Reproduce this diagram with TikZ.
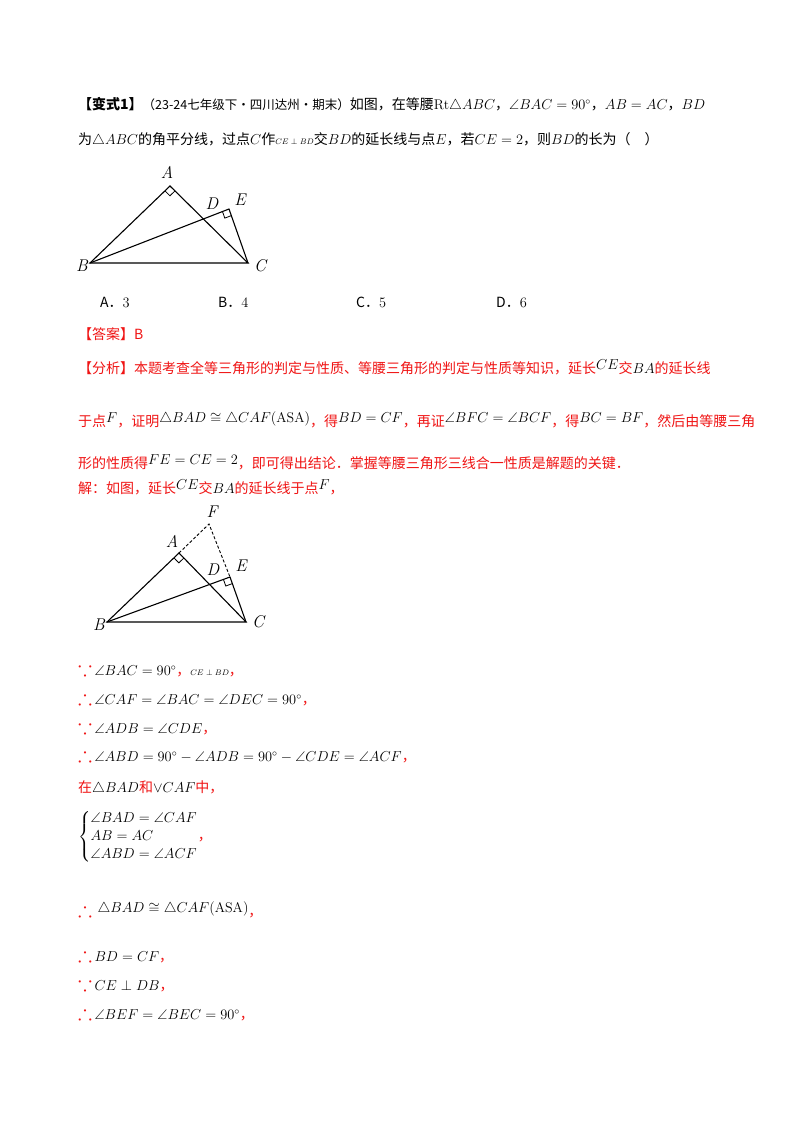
\documentclass[tikz,border=0pt]{standalone}
\usepackage{amsmath,amssymb,graphicx}
\usepackage{fontspec}
\newfontfamily\cjk{Noto Sans CJK SC}
\usetikzlibrary{calc}
\definecolor{rd}{RGB}{240,20,20}
\newcommand{\rz}[1]{{\color{rd}#1}}
\newcommand{\up}[1]{\textcolor{black}{\raisebox{4pt}{$#1$}}}
\newcommand{\bc}{\textcolor{rd}{\scalebox{1.5}{$\because$}}\,}
\newcommand{\tf}{\textcolor{rd}{\scalebox{1.5}{$\therefore$}}\,}
\begin{document}
\begin{tikzpicture}[x=1pt,y=-1pt,
  tx/.style={anchor=west,inner sep=0pt,font=\cjk\fontsize{14}{17}\selectfont},
  lb/.style={inner sep=0pt,font=\fontsize{17}{20}\selectfont\itshape},
  ln/.style={line width=1.1pt}]
\useasboundingbox (0,0) rectangle (800,1132);
\fill[white] (0,0) rectangle (800,1132);
% text
\node[tx] (t1) at (78,105) {\textbf{【变式1】}{\fontsize{12.5}{14}\selectfont（23-24七年级下·四川达州·期末）}如图，在等腰$\mathrm{Rt}\triangle ABC$，$\angle BAC=90^\circ$，$AB=AC$，$BD$};
\node[tx] (t2) at (78,140) {为$\triangle ABC$的角平分线，过点$C$作{\footnotesize$CE\perp BD$}交$BD$的延长线与点$E$，若$CE=2$，则$BD$的长为（\quad）};
\node[tx] (oa) at (100,302) {A．$3$};
\node[tx] (ob) at (218,302) {B．$4$};
\node[tx] (oc) at (356,302) {C．$5$};
\node[tx] (od) at (496,302) {D．$6$};
\node[tx,text=rd] (ans) at (78,334) {【答案】B};
\node[tx,text=rd] (a1) at (78,367) {【分析】本题考查全等三角形的判定与性质、等腰三角形的判定与性质等知识，延长\up{CE}交\textcolor{black}{$BA$}的延长线};
\node[tx,text=rd] (a2) at (78,420) {于点\up{F}，证明\up{\triangle BAD\cong\triangle CAF(\mathrm{ASA})}，得\up{BD=CF}，再证\up{\angle BFC=\angle BCF}，得\up{BC=BF}，然后由等腰三角};
\node[tx,text=rd] (a3) at (78,462) {形的性质得\up{FE=CE=2}，即可得出结论．掌握等腰三角形三线合一性质是解题的关键．};
\node[tx,text=rd] (a4) at (78,487) {解：如图，延长\up{CE}交\textcolor{black}{$BA$}的延长线于点\up{F}，};
\node[tx] (s1) at (78,669) {\bc $\angle BAC=90^\circ$\rz{，}{\footnotesize $CE\perp BD$}\rz{，}};
\node[tx] (s2) at (78,698) {\tf $\angle CAF=\angle BAC=\angle DEC=90^\circ$\rz{，}};
\node[tx] (s3) at (78,727) {\bc $\angle ADB=\angle CDE$\rz{，}};
\node[tx] (s4) at (78,755) {\tf $\angle ABD=90^\circ-\angle ADB=90^\circ-\angle CDE=\angle ACF$\rz{，}};
\node[tx] (s5) at (78,788) {\rz{在}$\triangle BAD$\rz{和}$\vee CAF$\rz{中，}};
\node[tx] (s6) at (78,837) {$\left\{\begin{aligned}&\angle BAD=\angle CAF\\[-2pt]&AB=AC\\[-2pt]&\angle ABD=\angle ACF\end{aligned}\right.$\rz{，}};
\node[tx] (s7) at (78,910) {\tf\ \up{\triangle BAD\cong\triangle CAF(\mathrm{ASA})}\rz{，}};
\node[tx] (s8) at (78,955) {\tf $BD=CF$\rz{，}};
\node[tx] (s9) at (78,984) {\bc $CE\perp DB$\rz{，}};
\node[tx] (s10) at (78,1013) {\tf $\angle BEF=\angle BEC=90^\circ$\rz{，}};
% figure 1
\coordinate (A) at (170,186); \coordinate (B) at (90,263); \coordinate (C) at (248,263);
\coordinate (E) at (229,209); \coordinate (D) at (211,214);
\draw[ln] (A)--(B)--(C)--cycle; \draw[ln] (B)--(E)--(C);
\draw[line width=0.8pt] ($(A)!7pt!(B)$) -- ($(A)!7pt!(B)+(A)!7pt!(C)-(A)$) -- ($(A)!7pt!(C)$);
\draw[line width=0.8pt] ($(E)!7pt!(B)$) -- ($(E)!7pt!(B)+(E)!7pt!(C)-(E)$) -- ($(E)!7pt!(C)$);
\node[lb] (lA) at (167,172) {A}; \node[lb] (lD) at (212,204) {D}; \node[lb] (lE) at (240,200) {E};
\node[lb] (lB) at (82,266) {B}; \node[lb] (lC) at (260,266) {C};
% figure 2
\coordinate (A2) at (179,553); \coordinate (B2) at (107,622); \coordinate (C2) at (246,622);
\coordinate (E2) at (230,577); \coordinate (D2) at (214,582); \coordinate (F2) at (209,524);
\draw[ln] (A2)--(B2)--(C2)--cycle; \draw[ln] (B2)--(E2)--(C2);
\draw[densely dashed,line width=0.9pt] (A2)--(F2)--(E2);
\draw[line width=0.8pt] ($(A2)!7pt!(B2)$) -- ($(A2)!7pt!(B2)+(A2)!7pt!(C2)-(A2)$) -- ($(A2)!7pt!(C2)$);
\draw[line width=0.8pt] ($(E2)!7pt!(B2)$) -- ($(E2)!7pt!(B2)+(E2)!7pt!(C2)-(E2)$) -- ($(E2)!7pt!(C2)$);
\node[lb] (lF2) at (212,512) {F}; \node[lb] (lA2) at (172,541) {A}; \node[lb] (lD2) at (213,570) {D};
\node[lb] (lE2) at (241,566) {E}; \node[lb] (lB2) at (99,625) {B}; \node[lb] (lC2) at (258,622) {C};
\end{tikzpicture}
\end{document}
